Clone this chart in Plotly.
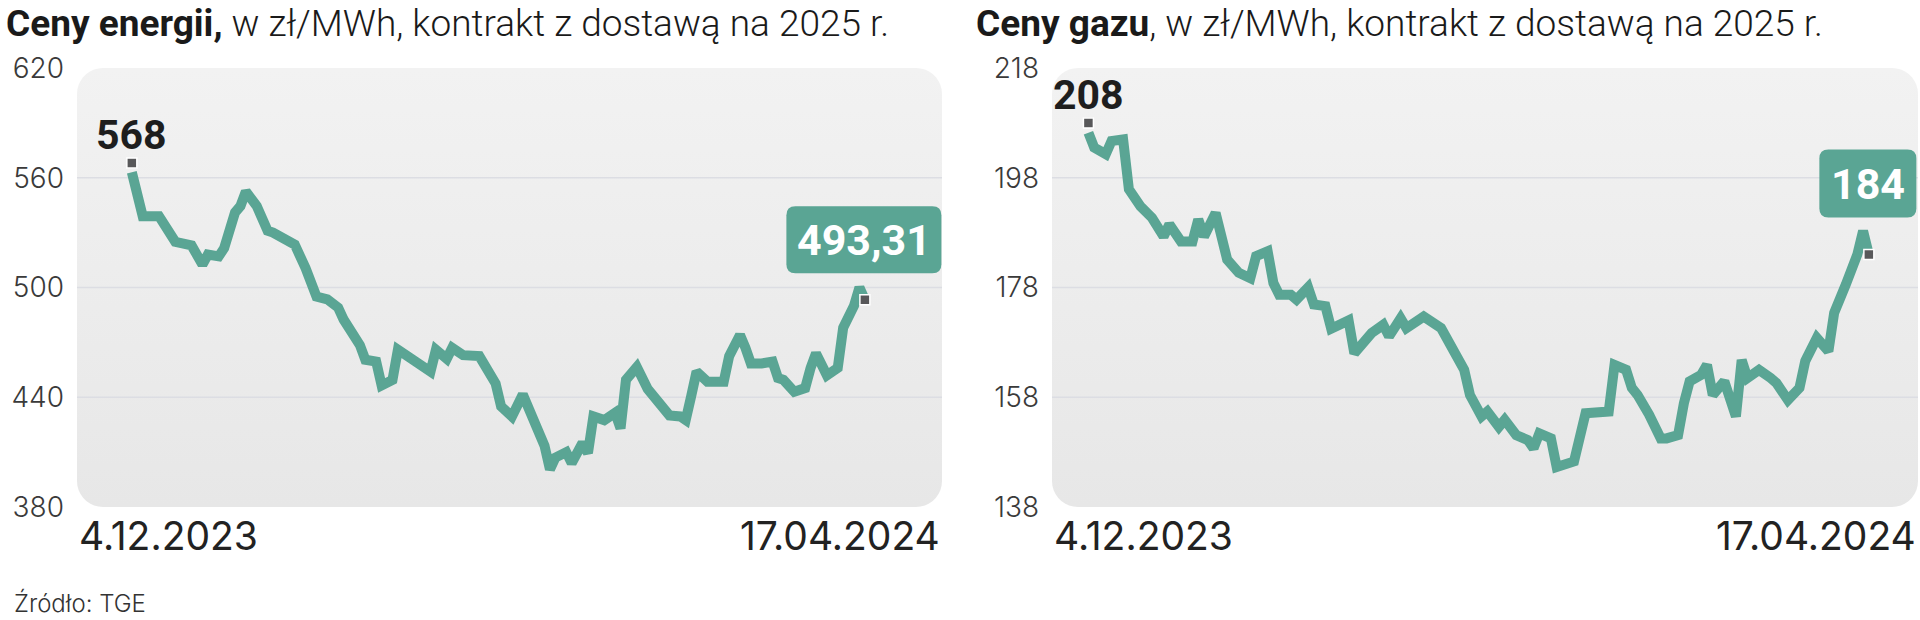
import numpy as np
import plotly.graph_objects as go

# ---------------- data ----------------
# day offsets from 4.12.2023 (calendar days) and prices in zł/MWh
energy_days = [0, 2, 5, 8, 11, 13, 14, 16, 17, 19, 20, 21, 23, 25, 26, 28, 30, 32, 34, 36,
               38, 39, 41, 42, 43, 45, 46, 48, 49, 52, 53, 55, 56, 58, 59, 61, 64, 65, 67, 68,
               70, 72, 74, 76, 77, 78, 80, 81, 83, 84, 85, 87, 89, 90, 91, 93, 95, 97, 99, 101,
               102, 103, 104, 106, 109, 110, 112, 113, 114, 116, 118, 119, 120, 122, 124, 125, 126, 128, 130, 131,
               132, 133, 134, 135]
energy_vals = [563, 539, 539, 525, 523, 512.5, 518, 517, 521.5, 541, 544.5, 552.5, 544.5, 531, 530, 527, 523.5, 510.5, 495, 493.5,
               489, 482.5, 473, 468.5, 460.5, 459.5, 446.5, 449.5, 466, 460.5, 458.5, 454, 466, 461, 467, 463, 462.5, 457.5, 447.5, 435,
               429.5, 441.5, 428.5, 413.5, 400.5, 407, 410, 404, 415, 409.5, 429.5, 427.5, 431.5, 423, 449.5, 456.5, 444.5, 437.5, 430, 429.5,
               427.5, 440.5, 454, 448.5, 448.5, 462.5, 474, 467, 458.5, 458.5, 459.5, 450.5, 449.5, 443, 445, 456, 464, 452, 456, 478,
               484, 490, 500, 493.31]

gas_days = [0, 1, 3, 4, 6, 7, 9, 11, 13, 14, 16, 18, 19, 20, 22, 23, 24, 26, 28, 29,
            31, 32, 33, 35, 36, 38, 39, 41, 42, 45, 46, 49, 51, 52, 54, 55, 58, 61, 63, 65,
            66, 68, 69, 71, 72, 74, 76, 77, 78, 80, 81, 84, 86, 88, 90, 91, 93, 94, 95, 97,
            99, 100, 102, 103, 104, 106, 107, 108, 110, 112, 113, 114, 116, 118, 119, 121, 122, 123, 124, 126,
            128, 129, 131, 133, 134, 135]
gas_vals = [206.2, 203.5, 202.3, 204.7, 205, 195.9, 192.8, 190.7, 187.3, 189.5, 186.4, 186.4, 190.4, 187.3, 191.6, 187.3, 183.1, 180.7, 179.7, 183.7,
            184.6, 178.8, 176.7, 176.7, 175.8, 178, 174.9, 174.6, 170.5, 172, 166, 169.7, 171.2, 169.1, 172.4, 170.6, 172.7, 170.6, 166.6, 163,
            158.4, 154.5, 155.4, 152.6, 153.9, 151.1, 150.2, 148.7, 151.4, 150.5, 145.3, 146.3, 155.1, 155.1, 155.4, 163.9, 163, 159.7, 158.4, 154.8,
            150.5, 150.5, 151.1, 156.9, 160.9, 162.1, 163.9, 158.4, 160.9, 154.5, 164.8, 161.5, 163, 161.5, 160.6, 157.5, 158.4, 159.7, 164.6, 168.8,
            166.4, 173.4, 178.5, 184, 188.3, 184]

energy_marks = [568, 493.31]
gas_marks = [208, 184]
energy_mark_labels = ["568", "493,31"]
gas_mark_labels = ["208", "184"]

energy_ticks = [380, 440, 500, 560, 620]
gas_ticks = [138, 158, 178, 198, 218]
date_labels = ["4.12.2023", "17.04.2024"]

titles_bold = ["Ceny energii,", "Ceny gazu"]
titles_rest = [" w zł/MWh, kontrakt z dostawą na 2025 r.", ", w zł/MWh, kontrakt z dostawą na 2025 r."]
source = "Źródło: TGE"

# ---------------- style ----------------
W, H = 1920, 620
TEAL = "#5aa594"
GRID = "#dcdde3"
BOLD = "Roboto"
SANS = "Inter, Roboto"

panels = [
    dict(x0=77, x1=942, days=energy_days, vals=energy_vals, marks=energy_marks,
         labels=energy_mark_labels, ticks=energy_ticks, xr=[-10.1, 149.2],
         box=dict(w=155, h=67, dy=60), title_x=4),
    dict(x0=1052, x1=1918, days=gas_days, vals=gas_vals, marks=gas_marks,
         labels=gas_mark_labels, ticks=gas_ticks, xr=[-6.3, 143.5],
         box=dict(w=97, h=68, dy=71), title_x=974),
]
ytop, ybot = 68, 507

fig = go.Figure()
shapes, annotations = [], []


def rrect(x0, y0, x1, y1, r_x, r_y):
    return (f"M {x0 + r_x} {y0} L {x1 - r_x} {y0} Q {x1} {y0} {x1} {y0 + r_y} "
            f"L {x1} {y1 - r_y} Q {x1} {y1} {x1 - r_x} {y1} L {x0 + r_x} {y1} "
            f"Q {x0} {y1} {x0} {y1 - r_y} L {x0} {y0 + r_y} Q {x0} {y0} {x0 + r_x} {y0} Z")


def rounded_outline(x0, x1, y0, y1, rx, ry, k=10):
    xs, ys = [], []
    corners = [(x1 - rx, y1 - ry, 0, 90), (x0 + rx, y1 - ry, 90, 180),
               (x0 + rx, y0 + ry, 180, 270), (x1 - rx, y0 + ry, 270, 360)]
    for cx, cy, a0, a1 in corners:
        a = np.radians(np.linspace(a0, a1, k))
        xs += list(cx + rx * np.cos(a))
        ys += list(cy + ry * np.sin(a))
    xs.append(xs[0])
    ys.append(ys[0])
    return xs, ys


for i, p in enumerate(panels):
    n = "" if i == 0 else str(i + 1)
    xa, ya = "x" + n, "y" + n
    pw = p["x1"] - p["x0"]
    ph = ybot - ytop
    yr = [p["ticks"][0], p["ticks"][-1]]
    # rounded panel with a soft vertical gradient
    rx = 26 * (p["xr"][1] - p["xr"][0]) / pw
    ry = 26 * (yr[1] - yr[0]) / ph
    px, py = rounded_outline(p["xr"][0], p["xr"][1], yr[0], yr[1], rx, ry)
    fig.add_trace(go.Scatter(x=px, y=py, mode="lines", fill="toself",
                             line=dict(width=0, color="rgba(0,0,0,0)"),
                             fillgradient=dict(type="vertical",
                                               colorscale=[[0, "#e7e7e7"], [1, "#f2f2f2"]]),
                             xaxis=xa, yaxis=ya, showlegend=False, hoverinfo="skip"))
    # gridlines at interior ticks
    for t in p["ticks"][1:-1]:
        fig.add_trace(go.Scatter(x=p["xr"], y=[t, t], mode="lines",
                                 line=dict(color=GRID, width=1.5),
                                 xaxis=xa, yaxis=ya, showlegend=False, hoverinfo="skip"))
    fig.add_trace(go.Scatter(x=p["days"], y=p["vals"], mode="lines",
                             line=dict(color=TEAL, width=10),
                             xaxis=xa, yaxis=ya, showlegend=False, hoverinfo="skip"))
    fig.add_trace(go.Scatter(x=[p["days"][0], p["days"][-1]], y=p["marks"], mode="markers",
                             marker=dict(symbol="square", size=10, color="#58585a",
                                         line=dict(color="#ffffff", width=1.5)),
                             xaxis=xa, yaxis=ya, showlegend=False, hoverinfo="skip"))
    b = p["box"]
    bx0, bx1 = -b["w"] / 2 - 1, b["w"] / 2 - 1
    by0, by1 = b["dy"] - b["h"] / 2, b["dy"] + b["h"] / 2
    shapes.append(dict(type="path", xref=xa, yref=ya, xsizemode="pixel", ysizemode="pixel",
                       xanchor=p["days"][-1], yanchor=p["marks"][1],
                       path=rrect(bx0, by0, bx1, by1, 9, 9),
                       fillcolor=TEAL, line=dict(width=0), layer="above"))
    annotations.append(dict(x=p["days"][-1], y=p["marks"][1], xref=xa, yref=ya,
                            text="<b>" + p["labels"][1] + "</b>", showarrow=False,
                            xshift=-1, yshift=b["dy"], xanchor="center", yanchor="middle",
                            font=dict(family=BOLD, size=43, color="#ffffff")))
    annotations.append(dict(x=p["days"][0], y=p["marks"][0], xref=xa, yref=ya,
                            text="<b>" + p["labels"][0] + "</b>", showarrow=False,
                            yshift=28, xanchor="center", yanchor="middle",
                            font=dict(family=BOLD, size=41, color="#1e1e1e")))
    annotations.append(dict(x=0, xref=xa + " domain", y=1 - 535 / H, yref="paper",
                            text=date_labels[0], showarrow=False, xanchor="left", yanchor="middle",
                            font=dict(family=SANS, size=39, color="#222222")))
    annotations.append(dict(x=1, xref=xa + " domain", y=1 - 535 / H, yref="paper",
                            text=date_labels[1], showarrow=False, xanchor="right", yanchor="middle",
                            font=dict(family=SANS, size=39, color="#222222")))
    annotations.append(dict(x=p["title_x"] / W, xref="paper", y=1 - 23 / H, yref="paper",
                            text="<b>" + titles_bold[i] + "</b>" + titles_rest[i],
                            showarrow=False, xanchor="left", yanchor="middle",
                            font=dict(family=BOLD, size=37, color="#1a1a1a", weight=300)))

    xaxis = dict(domain=[p["x0"] / W, p["x1"] / W], range=p["xr"], visible=False,
                 showgrid=False, zeroline=False, anchor=ya, automargin=False)
    yaxis = dict(domain=[1 - ybot / H, 1 - ytop / H], range=yr,
                 tickvals=p["ticks"], ticktext=[str(t) for t in p["ticks"]],
                 showgrid=False, zeroline=False, showline=False, ticks="",
                 ticklabelstandoff=12, anchor=xa, automargin=False,
                 tickfont=dict(family=SANS, size=28, color="#3a3a3a", weight=300))
    fig.update_layout(**{"xaxis" + n: xaxis, "yaxis" + n: yaxis})

annotations.append(dict(x=12 / W, xref="paper", y=1 - 603 / H, yref="paper", text=source,
                        showarrow=False, xanchor="left", yanchor="middle",
                        font=dict(family=SANS, size=24, color="#333333", weight=300)))

fig.update_layout(width=W, height=H, margin=dict(l=0, r=0, t=0, b=0),
                  paper_bgcolor="#ffffff", plot_bgcolor="rgba(0,0,0,0)",
                  shapes=shapes, annotations=annotations, showlegend=False)

fig.write_html("out.html", config={"displayModeBar": False},
               post_script="document.body.style.margin='0';document.body.style.overflow='hidden';")
